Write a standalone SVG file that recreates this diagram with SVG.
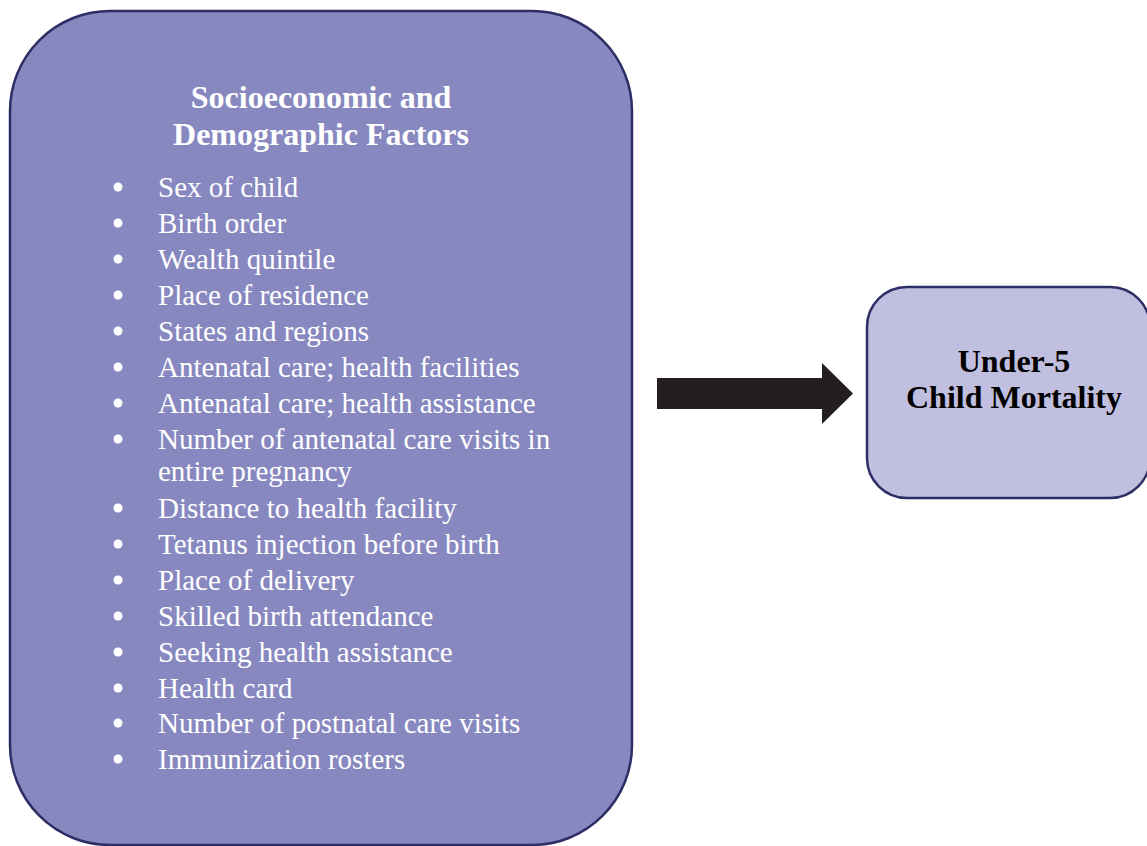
<svg xmlns="http://www.w3.org/2000/svg" width="1147" height="846" viewBox="0 0 1147 846">
  <style>
    .box-main { fill: #8888C0; stroke: #2E2E66; stroke-width: 2.5; }
    .box-out { fill: #C0BFDF; stroke: #2E2E66; stroke-width: 2.5; }
    .title { font-family: "Liberation Serif", "Times New Roman", serif; font-weight: bold; font-size: 32px; fill: #FFFFFF; text-anchor: middle; }
    .item { font-family: "Liberation Serif", "Times New Roman", serif; font-size: 29px; fill: #FFFFFF; }
    .dot { fill: #FFFFFF; }
    .out-label { font-family: "Liberation Serif", "Times New Roman", serif; font-weight: bold; font-size: 32px; fill: #000000; text-anchor: middle; }
    .arrow { fill: #231F20; }
  </style>
  <rect width="1147" height="846" fill="#FFFFFF"/>

  <g id="factors">
    <rect class="box-main" x="10" y="11" width="622" height="834" rx="100" ry="100"/>
    <text class="title" x="321" y="108">Socioeconomic and</text>
    <text class="title" x="321" y="145">Demographic Factors</text>
    <g class="dot">
      <circle cx="118" cy="187" r="4.5"/>
      <circle cx="118" cy="223" r="4.5"/>
      <circle cx="118" cy="259" r="4.5"/>
      <circle cx="118" cy="295" r="4.5"/>
      <circle cx="118" cy="331" r="4.5"/>
      <circle cx="118" cy="367" r="4.5"/>
      <circle cx="118" cy="403" r="4.5"/>
      <circle cx="118" cy="439" r="4.5"/>
      <circle cx="118" cy="508" r="4.5"/>
      <circle cx="118" cy="544" r="4.5"/>
      <circle cx="118" cy="580" r="4.5"/>
      <circle cx="118" cy="616" r="4.5"/>
      <circle cx="118" cy="652" r="4.5"/>
      <circle cx="118" cy="688" r="4.5"/>
      <circle cx="118" cy="723" r="4.5"/>
      <circle cx="118" cy="759" r="4.5"/>
    </g>
    <text class="item" x="158" y="197">Sex of child</text>
    <text class="item" x="158" y="233">Birth order</text>
    <text class="item" x="158" y="269">Wealth quintile</text>
    <text class="item" x="158" y="305">Place of residence</text>
    <text class="item" x="158" y="341">States and regions</text>
    <text class="item" x="158" y="377">Antenatal care; health facilities</text>
    <text class="item" x="158" y="413">Antenatal care; health assistance</text>
    <text class="item" x="158" y="449">Number of antenatal care visits in</text>
    <text class="item" x="158" y="481">entire pregnancy</text>
    <text class="item" x="158" y="518">Distance to health facility</text>
    <text class="item" x="158" y="554">Tetanus injection before birth</text>
    <text class="item" x="158" y="590">Place of delivery</text>
    <text class="item" x="158" y="626">Skilled birth attendance</text>
    <text class="item" x="158" y="662">Seeking health assistance</text>
    <text class="item" x="158" y="698">Health card</text>
    <text class="item" x="158" y="733">Number of postnatal care visits</text>
    <text class="item" x="158" y="769">Immunization rosters</text>
  </g>

  <g id="outcome">
    <rect class="box-out" x="867" y="287" width="283" height="211" rx="40" ry="40"/>
    <text class="out-label" x="1014" y="372">Under-5</text>
    <text class="out-label" x="1014" y="408">Child Mortality</text>
  </g>

  <g id="connectors">
    <polygon class="arrow" points="657,378 822,378 822,363 853,393.5 822,424 822,409 657,409"/>
  </g>
</svg>
